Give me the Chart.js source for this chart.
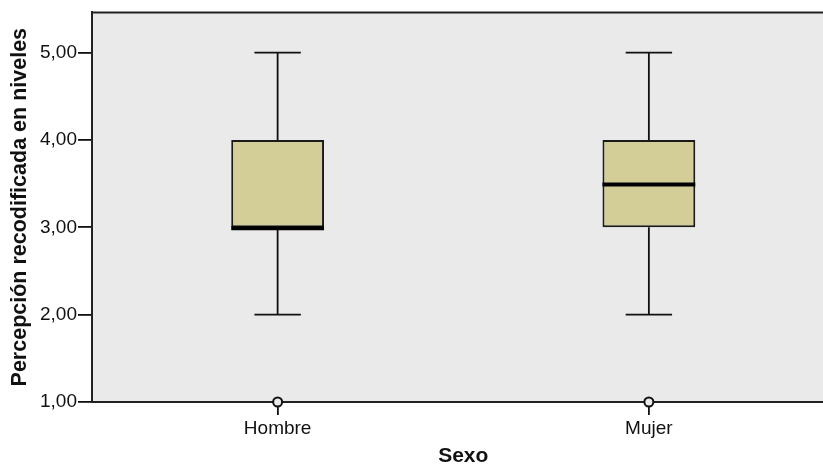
<!DOCTYPE html>
<html>
<head>
<meta charset="utf-8">
<script src="https://cdn.jsdelivr.net/npm/chart.js@4.4.1/dist/chart.umd.min.js"></script>
<style>
  html, body { margin: 0; padding: 0; background: #fff; overflow: hidden; }
  #wrap { width: 841px; height: 466px; }
</style>
</head>
<body>
<div id="wrap"><canvas id="myChart" width="841" height="466"></canvas></div>
<script>
const categorias = ['Hombre', 'Mujer'];
const minimos = [2, 2];
const q1 = [3, 3];
const medianas = [3, 3.5];
const q3 = [4, 4];
const maximos = [5, 5];
const atipicos = [1, 1];
const yTicks = [1, 2, 3, 4, 5];

const fontFam = '"Liberation Sans", Arial, sans-serif';

// fondo gris del area y borde superior
const areaPlugin = {
	id: 'area',
	beforeDraw(chart) {
		const { ctx, chartArea } = chart;
		ctx.save();
		ctx.fillStyle = '#EAEAEA';
		ctx.fillRect(chartArea.left, chartArea.top, chartArea.right - chartArea.left, chartArea.bottom - chartArea.top);
		ctx.restore();
	},
	afterDraw(chart) {
		const { ctx, chartArea } = chart;
		ctx.save();
		ctx.strokeStyle = '#222';
		ctx.lineWidth = 2;
		ctx.beginPath();
		ctx.moveTo(chartArea.left - 1, chartArea.top);
		ctx.lineTo(chartArea.right, chartArea.top);
		ctx.stroke();
		ctx.restore();
	}
};

// bigotes y medianas
const bigotesPlugin = {
	id: 'bigotes',
	afterDatasetsDraw(chart) {
		const { ctx } = chart;
		const y = chart.scales.y;
		const meta = chart.getDatasetMeta(0);
		ctx.save();
		meta.data.forEach((bar, i) => {
			const cx = bar.x;
			const half = bar.width / 2;
			const cap = half / 2;
			ctx.strokeStyle = '#111';
			ctx.lineWidth = 1.8;
			ctx.beginPath();
			ctx.moveTo(cx, y.getPixelForValue(q3[i]));
			ctx.lineTo(cx, y.getPixelForValue(maximos[i]));
			ctx.moveTo(cx - cap, y.getPixelForValue(maximos[i]));
			ctx.lineTo(cx + cap, y.getPixelForValue(maximos[i]));
			ctx.moveTo(cx, y.getPixelForValue(q1[i]));
			ctx.lineTo(cx, y.getPixelForValue(minimos[i]));
			ctx.moveTo(cx - cap, y.getPixelForValue(minimos[i]));
			ctx.lineTo(cx + cap, y.getPixelForValue(minimos[i]));
			ctx.stroke();
			ctx.lineWidth = 4;
			ctx.strokeStyle = '#000';
			ctx.beginPath();
			ctx.moveTo(cx - half, y.getPixelForValue(medianas[i]) + 1);
			ctx.lineTo(cx + half, y.getPixelForValue(medianas[i]) + 1);
			ctx.stroke();
		});
		ctx.restore();
	}
};

const ctx = document.getElementById('myChart');
new Chart(ctx, {
	type: 'bar',
	data: {
		labels: categorias,
		datasets: [
			{
				data: categorias.map((c, i) => [q1[i], q3[i]]),
				backgroundColor: '#D3CE98',
				borderColor: '#1a1a1a',
				borderWidth: 2,
				borderSkipped: false,
				barPercentage: 0.25,
				categoryPercentage: 1,
				order: 2
			},
			{
				type: 'line',
				data: atipicos,
				showLine: false,
				pointRadius: 4.5,
				pointBorderWidth: 2,
				pointBorderColor: '#111',
				pointBackgroundColor: '#EAEAEA',
				clip: false,
				order: 1
			}
		]
	},
	options: {
		responsive: false,
		animation: false,
		events: [],
		layout: { padding: { top: 11, left: 0, right: 0, bottom: 0 } },
		plugins: {
			legend: { display: false },
			tooltip: { enabled: false }
		},
		scales: {
			x: {
				offset: true,
				afterFit(scale) { scale.height = 64; },
				grid: { display: true, drawOnChartArea: false, drawTicks: true, tickLength: 13, offset: false, color: '#111', lineWidth: 1.8 },
				border: { display: true, color: '#222', width: 2 },
				ticks: { color: '#111', padding: 2, font: { family: fontFam, size: 19 } },
				title: { display: true, text: 'Sexo', color: '#111', padding: { top: 0, bottom: -1 }, font: { family: fontFam, size: 21, weight: 'bold', lineHeight: 1 } }
			},
			y: {
				min: 1,
				max: 5.46,
				afterFit(scale) { scale.width = 92; },
				afterBuildTicks(scale) { scale.ticks = yTicks.map(v => ({ value: v })); },
				grid: { display: true, drawOnChartArea: false, drawTicks: true, tickLength: 14, color: '#111', lineWidth: 1.8 },
				border: { display: true, color: '#222', width: 2 },
				ticks: {
					color: '#111',
					padding: 1,
					font: { family: fontFam, size: 19 },
					callback: v => v.toFixed(2).replace('.', ',')
				},
				title: { display: true, text: 'Percepción recodificada en niveles', color: '#111', padding: { top: 7, bottom: 0 }, font: { family: fontFam, size: 21.5, weight: 'bold', lineHeight: 1.2 } }
			}
		}
	},
	plugins: [areaPlugin, bigotesPlugin]
});
</script>
</body>
</html>
